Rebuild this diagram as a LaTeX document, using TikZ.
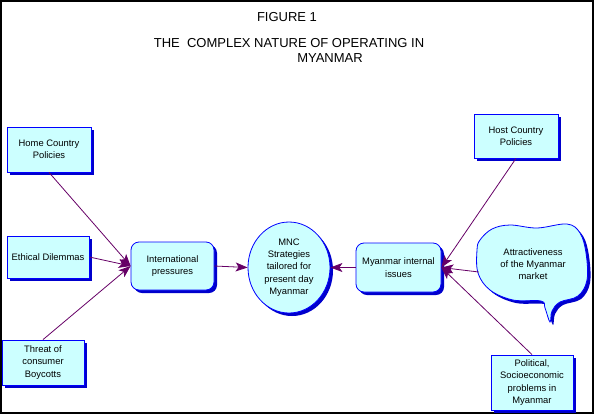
\documentclass[tikz,border=0pt]{standalone}
\usepackage{fontspec}
\setmainfont{Liberation Sans}
\usepackage{tikz}
\usetikzlibrary{arrows.meta,shadows,shapes.geometric,positioning}
\definecolor{pline}{RGB}{102,0,102}
\definecolor{pfill}{RGB}{204,255,255}
\definecolor{pshade}{RGB}{0,0,204}
\tikzset{
  pbox/.style={draw=blue, fill=pfill, line width=0.8pt, align=center, inner sep=0pt,
    drop shadow={shadow xshift=3pt, shadow yshift=-3pt, fill=pshade, opacity=1}},
  arr/.style={draw=pline, line width=0.8pt, -{Stealth[length=12pt,width=9pt,inset=3pt]}},
  ttl/.style={font=\fontsize{13}{15}\selectfont, inner sep=0pt},
}
\newcommand{\bubblepath}{plot[smooth cycle, tension=0.6] coordinates {(480,240) (492,229) (510,225) (537,228) (567,224) (580,233) (586,253) (587,280) (578,296) (560,302) (552,311) (550,322) (545,308) (541,301) (513,300) (490,290) (478,273) (477,250)}}

\begin{document}
\begin{tikzpicture}[x=1pt,y=-1pt,font=\fontsize{9.4}{12.3}\selectfont]
\useasboundingbox (0,0) rectangle (595,416);
\draw[line width=1.5pt] (0.75,0.75) rectangle (593,413);

\node[ttl] (fig) at (287,17) {FIGURE 1};
\node[ttl] (ttlA) at (289,43) {THE\ \ COMPLEX NATURE OF OPERATING IN};
\node[ttl] (ttlB) at (330,58) {MYANMAR};

\node[pbox, minimum width=84pt, minimum height=45pt] (home) at (49,149.5) {Home Country\\Policies};
\node[pbox, minimum width=82pt, minimum height=42pt] (ethic) at (48,257) {Ethical Dilemmas};
\node[pbox, minimum width=82pt, minimum height=45pt] (threat) at (43,362.5) {Threat of\\consumer\\Boycotts};
\node[pbox, rounded corners=8pt, minimum width=83pt, minimum height=48pt] (intl) at (172.5,266) {International\\pressures};
\node[pbox, ellipse, minimum width=82pt, minimum height=91pt] (mnc) at (289,267.5) {MNC\\Strategies\\tailored for\\present day\\Myanmar};
\node[pbox, rounded corners=8pt, minimum width=85pt, minimum height=49pt] (inner) at (398.5,267.5) {Myanmar internal\\issues};
\node[pbox, minimum width=84pt, minimum height=44pt] (host) at (516,136) {Host Country\\Policies};
\node[pbox, minimum width=82pt, minimum height=55pt] (polit) at (532,382.5) {Political,\\Socioeconomic\\problems in\\Myanmar};

\fill[pshade, shift={(3,3)}] \bubblepath;
\filldraw[draw=blue, fill=pfill, line width=0.8pt] \bubblepath;
\node[align=center, minimum width=108pt, inner sep=0pt] (attract) at (533,264) {Attractiveness\\of the Myanmar\\market};

\draw[arr] (home.south) -- (intl.west);
\draw[arr] (ethic.east) -- (intl.west);
\draw[arr] (threat.north) -- (intl.west);
\draw[arr] (intl.east) -- (mnc.west);
\draw[arr] (inner.west) -- (mnc.east);
\draw[arr] (host.south) -- (inner.east);
\draw[arr] ([yshift=-8pt]attract.west) -- (inner.east);
\draw[arr] (polit.north) -- (inner.east);
\end{tikzpicture}
\end{document}
